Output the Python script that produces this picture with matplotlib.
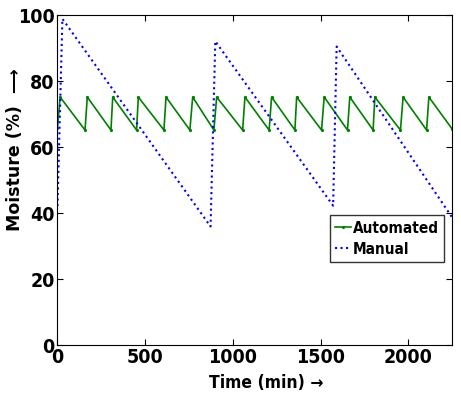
import matplotlib
matplotlib.use('Agg')
import matplotlib.pyplot as plt

# moisture readings
auto_t = [0, 15, 157, 170, 305, 315, 451, 461, 607, 619, 755, 771, 892, 908,
          1056, 1069, 1207, 1221, 1354, 1364, 1506, 1521, 1654, 1667, 1800,
          1810, 1956, 1971, 2105, 2118, 2250]
auto_v = [65.5, 75, 65, 75, 65, 75, 65, 75, 65, 75, 65, 75, 65, 75,
          65, 75, 65, 75, 65, 75, 65, 75, 65, 75, 65,
          75, 65, 75, 65, 75, 65.4]

manual_t = [0, 28, 873, 900, 1572, 1592, 2250]
manual_v = [42, 98.7, 35.8, 91.9, 42.1, 90.3, 38.6]

xticks = [0, 500, 1000, 1500, 2000]
yticks = [0, 20, 40, 60, 80, 100]

narrow = dict(family=['DejaVu Sans'], stretch='condensed', weight='bold')

fig = plt.figure(figsize=(4.61, 4.02), dpi=100)
ax = fig.add_axes([0.1247, 0.140, 0.8558, 0.8214])

ax.plot(auto_t, auto_v, '-', color='#008000', lw=1.2, marker='.',
        markersize=2.5, label='Automated')
ax.plot(manual_t, manual_v, ':', color='#0000ff', lw=1.5, label='Manual')

ax.set_xlim(0, 2250)
ax.set_ylim(0, 100)
ax.set_xticks(xticks)
ax.set_yticks(yticks)
ax.tick_params(direction='in', top=True, right=True, length=4, width=0.8, pad=2)
for lab in ax.get_xticklabels() + ax.get_yticklabels():
    lab.set_family(narrow['family'])
    lab.set_stretch('condensed')
    lab.set_weight('bold')
    lab.set_fontsize(14)

ax.set_xlabel('Time (min) →', fontsize=12.5, **narrow)
ax.xaxis.set_label_coords(0.53, -0.085)
ax.set_ylabel('Moisture (%)  ⟶', family=['DejaVu Sans'], fontweight='bold',
              fontsize=12.5)
ax.yaxis.set_label_coords(-0.085, 0.593)

leg = ax.legend(loc='upper left', bbox_to_anchor=(0.691, 0.393),
                prop={'family': ['DejaVu Sans'], 'stretch': 'condensed',
                      'weight': 'bold', 'size': 11},
                frameon=True, fancybox=False, edgecolor='black',
                handlelength=1.0, handletextpad=0.15, borderpad=0.35,
                labelspacing=0.4, borderaxespad=0)
leg.get_frame().set_linewidth(1.0)

fig.savefig('out.png', dpi=100)
